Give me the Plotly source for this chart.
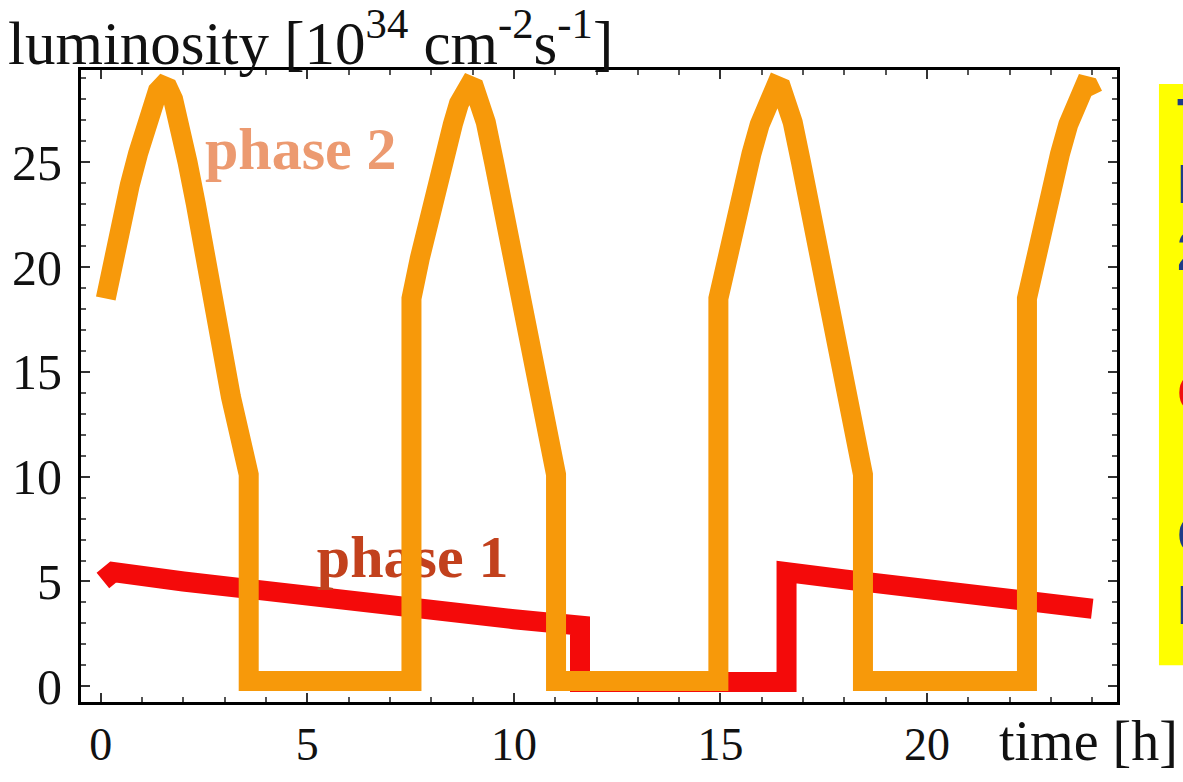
import plotly.graph_objects as go

# ---- data ----
phase2_time = [0.12, 0.3, 0.5, 0.7, 0.9, 1.1, 1.25, 1.38, 1.5, 1.62, 1.75, 1.9, 2.1, 2.3, 2.55, 2.8, 3.15, 3.58, 3.58, 7.52,
               7.52, 7.72, 7.92, 8.12, 8.32, 8.52, 8.67, 8.8, 8.92, 9.04, 9.17, 9.32, 9.52, 9.72, 9.97, 10.22, 10.57, 11.02, 11.02, 14.95,
               14.95, 15.15, 15.35, 15.55, 15.75, 15.95, 16.1, 16.23, 16.35, 16.47, 16.6, 16.75, 16.95, 17.15, 17.4, 17.65, 18.0, 18.45, 18.45, 22.42,
               22.42, 22.62, 22.82, 23.02, 23.22, 23.42, 23.57, 23.7, 23.82, 23.92, 24.02]
phase2_lumi = [18.5, 20.4, 22.2, 23.9, 25.4, 26.8, 27.8, 28.4, 28.65, 28.55, 28.0, 26.9, 25.0, 23.0, 20.2, 17.4, 13.8, 10.1, 0.25, 0.25,
               18.5, 20.4, 22.2, 23.9, 25.4, 26.8, 27.8, 28.4, 28.65, 28.55, 28.0, 26.9, 25.0, 23.0, 20.2, 17.4, 13.8, 10.1, 0.25, 0.25,
               18.5, 20.4, 22.2, 23.9, 25.4, 26.8, 27.8, 28.4, 28.65, 28.55, 28.0, 26.9, 25.0, 23.0, 20.2, 17.4, 13.8, 10.1, 0.25, 0.25,
               18.5, 20.4, 22.2, 23.9, 25.4, 26.8, 27.8, 28.4, 28.65, 28.6, 28.2]

phase1_time = [0.05, 0.3, 2.0, 4.0, 6.0, 8.0, 10.0, 11.6, 11.6, 16.6, 16.6, 18.0, 20.0, 22.0, 24.0]
phase1_lumi = [5.05, 5.45, 5.0, 4.5, 4.05, 3.6, 3.2, 2.9, 0.2, 0.2, 5.45, 5.1, 4.6, 4.15, 3.7]

x_ticks = [0, 5, 10, 15, 20]
y_ticks = [0, 5, 10, 15, 20, 25]

label_phase2 = "phase 2"
label_phase1 = "phase 1"

SERIF = "Liberation Serif, Times New Roman, serif"

fig = go.Figure()

fig.add_trace(go.Scatter(x=phase1_time, y=phase1_lumi, mode="lines",
                         line=dict(color="#F40A0A", width=20), hoverinfo="skip"))
fig.add_trace(go.Scatter(x=[7.55], y=[5.95], mode="text", text=["<b>%s</b>" % label_phase1],
                         textposition="middle center",
                         textfont=dict(family=SERIF, size=60, color="#C2411D"), hoverinfo="skip"))
fig.add_trace(go.Scatter(x=[4.84], y=[25.4], mode="text", text=["<b>%s</b>" % label_phase2],
                         textposition="middle center",
                         textfont=dict(family=SERIF, size=60, color="#EC9A70"), hoverinfo="skip"))
fig.add_trace(go.Scatter(x=phase2_time, y=phase2_lumi, mode="lines",
                         line=dict(color="#F7990A", width=20), hoverinfo="skip"))

axis_common = dict(showline=True, linecolor="black", linewidth=3, mirror="ticks",
                   ticks="inside", ticklen=9, tickwidth=1.5, tickcolor="#333",
                   showgrid=False, zeroline=False)

fig.update_xaxes(range=[-0.48, 24.6], tickvals=x_ticks, ticktext=[str(v) for v in x_ticks],
                 minor=dict(dtick=1, ticks="inside", ticklen=5, tickcolor="#555", showgrid=False),
                 tickfont=dict(family=SERIF, size=46, color="#111"),
                 **axis_common)
fig.update_yaxes(range=[-0.75, 29.4], tickvals=y_ticks, ticktext=[str(v) for v in y_ticks],
                 minor=dict(dtick=1, ticks="inside", ticklen=5, tickcolor="#555", showgrid=False),
                 tickfont=dict(family=SERIF, size=50, color="#111"),
                 ticklabelstandoff=6,
                 **axis_common)

# axis titles as free text
fig.add_annotation(xref="paper", yref="paper", x=-0.072, y=1.0, xanchor="left", yanchor="bottom",
                   yshift=-9,
                   text="luminosity [10<sup>34</sup> cm<sup>-2</sup>s<sup>-1</sup>]", showarrow=False,
                   font=dict(family=SERIF, size=61, color="#111"))
fig.add_annotation(xref="paper", yref="paper", x=0.884, y=0.0, xanchor="left", yanchor="top",
                   yshift=-6,
                   text="time [h]", showarrow=False,
                   font=dict(family=SERIF, size=56, color="#111"))

# yellow side box (clipped by page edge, as in the reference)
fig.add_shape(type="rect", xref="paper", yref="paper", x0=1.0405, x1=1.2, y0=0.058, y1=0.978,
              fillcolor="#FFFF00", line=dict(width=0), layer="above")
side_letters = [("T", 0.925, "#1F3C88"), ("P", 0.82, "#1F3C88"), ("2", 0.715, "#1F3C88"),
                ("C", 0.49, "#F01010"), ("C", 0.265, "#1F3C88"), ("P", 0.155, "#1F3C88")]
for ch, yy, col in side_letters:
    fig.add_annotation(xref="paper", yref="paper", x=1.056, y=yy, xanchor="left", yanchor="middle",
                       text="<b>%s</b>" % ch, showarrow=False,
                       font=dict(family="Liberation Sans, Arial, sans-serif", size=56, color=col))

fig.update_layout(width=1183, height=782, margin=dict(l=81, r=66, t=70, b=73),
                  paper_bgcolor="white", plot_bgcolor="white", showlegend=False)

fig.write_html("out.html")
